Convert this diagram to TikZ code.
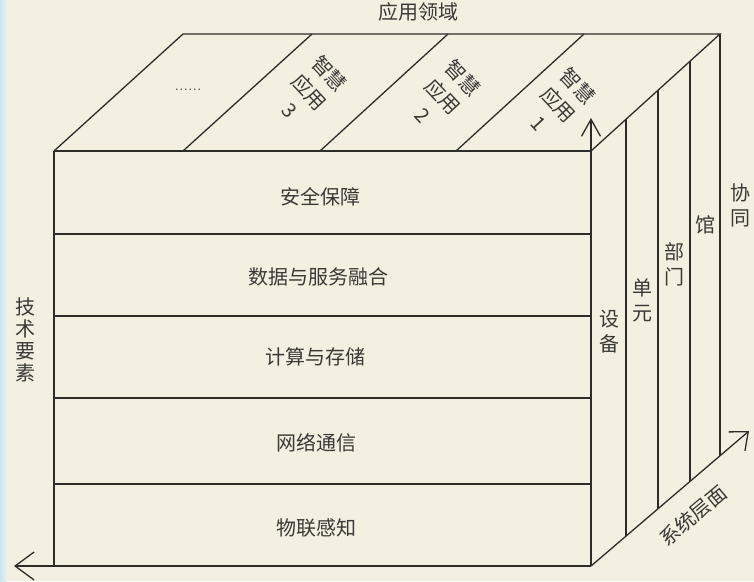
\documentclass[tikz,border=0pt]{standalone}
\usepackage{fontspec}
\newfontfamily\cjk{Noto Sans CJK SC}
\usetikzlibrary{arrows.meta}
\definecolor{bg}{HTML}{F3EFE1}
\definecolor{ln}{HTML}{2E2C28}
\definecolor{tx}{HTML}{3A3936}
\definecolor{strip}{HTML}{C6E6F6}
\tikzset{
  edge/.style={draw=ln, line width=1.3pt, line cap=butt},
  lbl/.style={font=\cjk\fontsize{20}{24}\selectfont, text=tx, inner sep=0pt},
  vlbl/.style={lbl, align=center, font=\cjk\fontsize{20}{25}\selectfont},
  applbl/.style={lbl, align=center, rotate=-47, font=\cjk\fontsize{20}{27}\selectfont},
}
\begin{document}
\begin{tikzpicture}[x=1pt,y=-1pt]
\useasboundingbox (0,0) rectangle (754,581);
\fill[bg] (0,0) rectangle (754,581);
\shade[left color=strip, right color=bg] (0,0) rectangle (7,581);
% key points
\coordinate (A) at (54,151);
\coordinate (B) at (591,151);
\coordinate (C) at (591,566);
\coordinate (D) at (54,566);
\coordinate (E) at (183,34);
\coordinate (F) at (720,34);
\coordinate (upT) at (591,118);
\coordinate (leftT) at (14,566);
\coordinate (diagT) at (749,431);
% front face
\draw[edge] (A) -- (B);
\draw[edge] (A) -- (D);
\draw[edge] (54,234) -- (591,234);
\draw[edge] (54,316) -- (591,316);
\draw[edge] (54,398) -- (591,398);
\draw[edge] (54,484) -- (591,484);
% top face
\draw[edge] (A) -- (E) -- (F) -- (B);
\draw[edge] (183,151) -- (312,34);
\draw[edge] (320,151) -- (448,34);
\draw[edge] (456,151) -- (584,34);
% right face
\draw[edge] (626,119.3) -- (626,536.1);
\draw[edge] (658,90.2) -- (658,508.8);
\draw[edge] (690,61.2) -- (690,481.4);
\draw[edge] (F) -- (720,455.8);
% axes
\draw[edge, -{Straight Barb[length=17pt,width=19pt,line width=1.3pt]}] (C) -- (upT);
\draw[edge, -{Straight Barb[length=19pt,width=28pt,line width=1.3pt]}] (C) -- (leftT);
\draw[edge, -{Straight Barb[length=15pt,width=25pt,line width=1.3pt]}] (C) -- (diagT);
% texts
\node[lbl] (domain) at (418,12) {应用领域};
\node[vlbl, font=\cjk\fontsize{20}{22}\selectfont] (tech) at (25,340) {技\\术\\要\\素};
\node[lbl] (l1) at (320,197) {安全保障};
\node[lbl] (l2) at (318,277) {数据与服务融合};
\node[lbl] (l3) at (315,357) {计算与存储};
\node[lbl] (l4) at (316,443) {网络通信};
\node[lbl] (l5) at (316,528) {物联感知};
\node[vlbl] (r1) at (609,332) {设\\备};
\node[vlbl] (r2) at (642,300) {单\\元};
\node[vlbl] (r3) at (674,264) {部\\门};
\node[vlbl] (r4) at (705,225) {馆};
\node[vlbl] (r5) at (740,205) {协\\同};
\node[lbl, rotate=40] (sys) at (693,516) {系统层面};
\node[applbl] (app3) at (310,91.5) {智慧\\应用\\3};
\node[applbl] (app2) at (443.5,96) {智慧\\应用\\2};
\node[applbl] (app1) at (559,104) {智慧\\应用\\1};
\node[inner sep=0pt, anchor=base, text=tx, font=\rmfamily\fontsize{18}{20}\selectfont] (dots) at (188,90) {......};
\end{tikzpicture}
\end{document}
